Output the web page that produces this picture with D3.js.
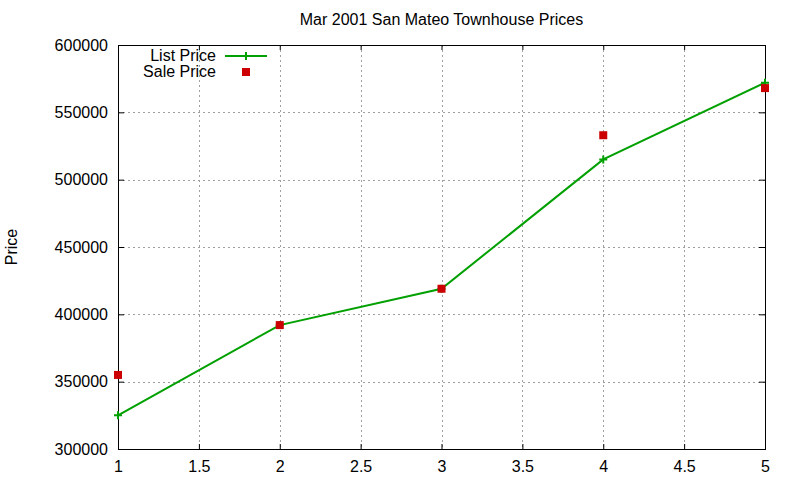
<!DOCTYPE html>
<html>
<head>
<meta charset="utf-8">
<script src="https://cdn.jsdelivr.net/npm/d3@7"></script>
<style>
  body { margin: 0; background: #fff; }
  text { font-family: "Liberation Sans", Arial, sans-serif; fill: #000; }
</style>
</head>
<body>
<svg id="chart" width="800" height="480"></svg>
<script>
var rooms = [1, 2, 3, 4, 5];
var listPrice = [325000, 392000, 419000, 515000, 572000];
var salePrice = [355000, 392000, 419000, 533000, 568000];
var xTicks = [1, 1.5, 2, 2.5, 3, 3.5, 4, 4.5, 5];
var yTicks = [300000, 350000, 400000, 450000, 500000, 550000, 600000];

var svg = d3.select("#chart");
var width = +svg.attr("width");
var height = +svg.attr("height");
var padding = { top: 45, right: 35, bottom: 31, left: 118 };

var xScale = d3.scaleLinear()
               .domain([1, 5])
               .range([padding.left, width - padding.right]);

var yScale = d3.scaleLinear()
               .domain([300000, 600000])
               .range([height - padding.bottom, padding.top]);

// grid
var grid = svg.append("g")
    .attr("stroke", "#a0a0a0")
    .attr("stroke-width", 1)
    .attr("stroke-dasharray", "2,3");

grid.selectAll(".gx")
  .data(xTicks.slice(1, -1))
  .enter()
  .append("line")
    .attr("x1", d => Math.round(xScale(d)) + 0.5)
    .attr("x2", d => Math.round(xScale(d)) + 0.5)
    .attr("y1", padding.top)
    .attr("y2", height - padding.bottom);

grid.selectAll(".gy")
  .data(yTicks.slice(1, -1))
  .enter()
  .append("line")
    .attr("y1", d => Math.round(yScale(d)) + 0.5)
    .attr("y2", d => Math.round(yScale(d)) + 0.5)
    .attr("x1", padding.left)
    .attr("x2", width - padding.right);

// axes (gnuplot style: inward ticks, mirrored)
var fmt = d3.format("d");
function styleAxis(g) {
  g.select(".domain").remove();
  g.selectAll(".tick line").attr("stroke", "#000");
  g.selectAll(".tick text").style("font-size", "16px");
}

svg.append("g")
    .attr("transform", "translate(0," + (height - padding.bottom) + ")")
    .call(d3.axisBottom(xScale).tickValues(xTicks).tickSizeInner(-5).tickSizeOuter(0).tickPadding(12).tickFormat(d3.format("")))
    .call(styleAxis);

svg.append("g")
    .attr("transform", "translate(0," + padding.top + ")")
    .call(d3.axisTop(xScale).tickValues(xTicks).tickSizeInner(-5).tickSizeOuter(0).tickFormat(""))
    .call(styleAxis);

svg.append("g")
    .attr("transform", "translate(" + padding.left + ",0)")
    .call(d3.axisLeft(yScale).tickValues(yTicks).tickSizeInner(-6).tickSizeOuter(0).tickPadding(10).tickFormat(fmt))
    .call(styleAxis);

svg.append("g")
    .attr("transform", "translate(" + (width - padding.right) + ",0)")
    .call(d3.axisRight(yScale).tickValues(yTicks).tickSizeInner(-6).tickSizeOuter(0).tickFormat(""))
    .call(styleAxis);

svg.append("rect")
    .attr("x", padding.left + 0.5)
    .attr("y", padding.top + 0.5)
    .attr("width", width - padding.left - padding.right)
    .attr("height", height - padding.top - padding.bottom)
    .attr("fill", "none")
    .attr("stroke", "#000")
    .attr("stroke-width", 1);

// title and axis label
svg.append("text")
    .attr("x", (padding.left + width - padding.right) / 2)
    .attr("y", 25)
    .attr("text-anchor", "middle")
    .style("font-size", "16px")
    .text("Mar 2001 San Mateo Townhouse Prices");

svg.append("text")
    .attr("transform", "rotate(-90)")
    .attr("x", -(padding.top + height - padding.bottom) / 2)
    .attr("y", 17)
    .attr("text-anchor", "middle")
    .style("font-size", "16px")
    .text("Price");

// list price line + markers
var green = "#00a000";
var red = "#cc0000";
var listData = rooms.map((r, i) => ({ x: r, y: listPrice[i] }));
var saleData = rooms.map((r, i) => ({ x: r, y: salePrice[i] }));

var line = d3.line()
             .x(d => xScale(d.x))
             .y(d => yScale(d.y));

svg.append("path")
    .datum(listData)
    .attr("d", line)
    .attr("fill", "none")
    .attr("stroke", green)
    .attr("stroke-width", 2);

function plus(g, cx, cy) {
  g.append("path")
      .attr("d", "M" + (cx - 4) + "," + cy + "H" + (cx + 4) + "M" + cx + "," + (cy - 4) + "V" + (cy + 4))
      .attr("stroke", green)
      .attr("stroke-width", 2)
      .attr("fill", "none");
}

var marks = svg.append("g");
listData.forEach(d => plus(marks, xScale(d.x), yScale(d.y)));

svg.selectAll(".sale")
  .data(saleData)
  .enter()
  .append("rect")
    .classed("sale", true)
    .attr("x", d => xScale(d.x) - 4)
    .attr("y", d => yScale(d.y) - 4)
    .attr("width", 8)
    .attr("height", 8)
    .attr("fill", red);

// legend
var legend = svg.append("g");
legend.append("text")
    .attr("x", 216)
    .attr("y", 61)
    .attr("text-anchor", "end")
    .style("font-size", "16px")
    .text("List Price");
legend.append("line")
    .attr("x1", 225).attr("x2", 267)
    .attr("y1", 56).attr("y2", 56)
    .attr("stroke", green)
    .attr("stroke-width", 2);
plus(legend, 246, 56);

legend.append("text")
    .attr("x", 216)
    .attr("y", 77)
    .attr("text-anchor", "end")
    .style("font-size", "16px")
    .text("Sale Price");
legend.append("rect")
    .attr("x", 242).attr("y", 68)
    .attr("width", 8).attr("height", 8)
    .attr("fill", red);
</script>
</body>
</html>
